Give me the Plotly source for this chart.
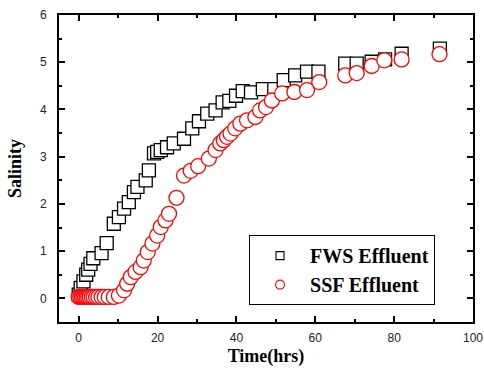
import plotly.graph_objects as go

# FWS Effluent (squares)
fws_time = [0, 0.5, 1.2, 1.9, 2.4, 3.0, 3.7, 5.8, 7.1, 8.9, 10.2, 11.5, 12.7, 14.0, 14.9,
            17.0, 17.8, 19.1, 19.9, 20.8, 22.4, 24.1, 26.7, 28.8, 30.5, 32.6, 34.7, 36.5,
            38.2, 39.9, 41.6, 43.7, 46.7, 49.6, 52.0, 54.9, 57.9, 60.8, 67.6, 70.5, 74.3,
            77.7, 81.9, 91.6]
fws_salinity = [0.08, 0.22, 0.36, 0.50, 0.61, 0.73, 0.85, 0.96, 1.17, 1.58, 1.72, 1.90, 2.04,
                2.25, 2.36, 2.50, 2.71, 3.07, 3.10, 3.14, 3.20, 3.28, 3.38, 3.60, 3.75, 3.91,
                3.98, 4.15, 4.18, 4.29, 4.39, 4.36, 4.43, 4.43, 4.62, 4.72, 4.80, 4.80, 4.97,
                4.97, 5.01, 5.06, 5.18, 5.29]

# SSF Effluent (circles)
ssf_time = [0, 0.4, 0.8, 1.2, 1.6, 2.0, 2.4, 2.8, 3.3, 3.8, 4.4, 5.0, 5.8, 6.6, 7.6, 8.9,
            10.2, 11.5, 12.3, 13.2, 14.4, 15.7, 16.5, 17.5, 18.7, 19.9, 20.8, 22.0, 22.9,
            24.8, 26.7, 28.4, 30.3, 33.0, 34.7, 35.9, 36.8, 37.6, 38.5, 39.7, 41.0, 42.7,
            44.8, 46.0, 47.5, 49.0, 51.6, 54.7, 57.9, 61.0, 67.6, 70.5, 74.3, 77.5, 81.9, 91.5]
ssf_salinity = [0.03, 0.03, 0.03, 0.03, 0.03, 0.03, 0.03, 0.03, 0.03, 0.03, 0.03, 0.03, 0.03,
                0.03, 0.03, 0.03, 0.06, 0.17, 0.31, 0.45, 0.56, 0.66, 0.80, 0.98, 1.16, 1.33,
                1.51, 1.65, 1.79, 2.13, 2.60, 2.70, 2.80, 2.96, 3.14, 3.28, 3.35, 3.42, 3.49,
                3.60, 3.70, 3.77, 3.84, 3.98, 4.05, 4.19, 4.34, 4.37, 4.41, 4.58, 4.72, 4.77,
                4.92, 5.04, 5.06, 5.17]

x_ticks = [0, 20, 40, 60, 80, 100]
y_ticks = [0, 1, 2, 3, 4, 5, 6]

fig = go.Figure()
fig.add_trace(go.Scatter(
    x=fws_time, y=fws_salinity, mode="markers", showlegend=False,
    marker=dict(symbol="square", size=13, color="white",
                line=dict(color="black", width=1.3))))
fig.add_trace(go.Scatter(
    x=ssf_time, y=ssf_salinity, mode="markers", showlegend=False,
    marker=dict(symbol="circle", size=15, color="white",
                line=dict(color="red", width=1.3))))
# legend entries with small markers
fig.add_trace(go.Scatter(
    x=[None], y=[None], mode="markers", name="<b>FWS Effluent</b>",
    marker=dict(symbol="square", size=8, color="white",
                line=dict(color="black", width=1.1))))
fig.add_trace(go.Scatter(
    x=[None], y=[None], mode="markers", name="<b>SSF Effluent</b>",
    marker=dict(symbol="circle", size=9, color="white",
                line=dict(color="red", width=1.1))))

axis_common = dict(
    showline=True, linecolor="black", linewidth=2, mirror="allticks",
    ticks="inside", ticklen=6, tickwidth=2, tickcolor="black",
    showgrid=False, zeroline=False, automargin=False,
    tickfont=dict(family="Liberation Sans, Arial", size=12, color="#222"),
)

fig.update_xaxes(
    range=[-5, 100], tickvals=x_ticks, ticklabelstandoff=4,
    minor=dict(ticks="inside", ticklen=3, tickwidth=1.5, tickcolor="black", dtick=10, tick0=0),
    title=dict(text="<b>Time(hrs)</b>", font=dict(family="Liberation Serif, Times New Roman", size=18, color="black"),
               standoff=5),
    **axis_common)
fig.update_yaxes(
    range=[-0.5, 6], tickvals=y_ticks, ticklabelstandoff=8,
    minor=dict(ticks="inside", ticklen=3, tickwidth=1.5, tickcolor="black", dtick=0.5, tick0=0),
    title=dict(text="<b>Salinity</b>", font=dict(family="Liberation Serif, Times New Roman", size=18, color="black"),
               standoff=14),
    **axis_common)

fig.update_layout(
    width=484, height=374,
    margin=dict(l=59, r=11, t=15, b=52),
    plot_bgcolor="white", paper_bgcolor="white",
    legend=dict(
        x=0.459, y=0.283, xanchor="left", yanchor="top",
        bordercolor="black", borderwidth=1, bgcolor="white",
        font=dict(family="Liberation Serif, Times New Roman", size=20, color="black"),
        itemwidth=50, tracegroupgap=0,
    ),
)

fig.write_html(
    "out.html",
    config={"displayModeBar": False},
    post_script="document.body.style.margin='0';document.body.style.overflow='hidden';",
)
